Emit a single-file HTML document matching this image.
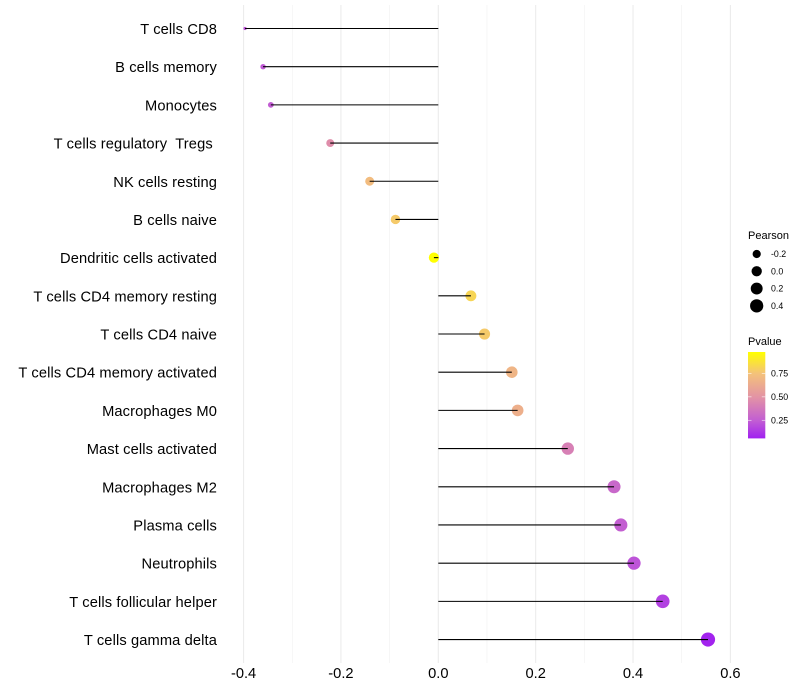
<!DOCTYPE html>
<html>
<head>
<meta charset="utf-8">
<title>Immune cell correlation lollipop chart</title>
<style>
html,body{margin:0;padding:0;background:#fff;width:800px;height:700px;overflow:hidden}
svg{display:block}
text{font-family:"Liberation Sans",sans-serif;fill:#000}
</style>
</head>
<body>
<svg id="chart" width="800" height="700" viewBox="0 0 800 700" xmlns="http://www.w3.org/2000/svg"></svg>
<script>
const categories = ["T cells CD8","B cells memory","Monocytes","T cells regulatory  Tregs ","NK cells resting","B cells naive","Dendritic cells activated","T cells CD4 memory resting","T cells CD4 naive","T cells CD4 memory activated","Macrophages M0","Mast cells activated","Macrophages M2","Plasma cells","Neutrophils","T cells follicular helper","T cells gamma delta"];
const pearson = [-0.397,-0.36,-0.344,-0.222,-0.141,-0.088,-0.009,0.067,0.095,0.151,0.163,0.266,0.361,0.375,0.402,0.461,0.554];
const pvalue = [0.22,0.24,0.25,0.47,0.72,0.78,0.98,0.82,0.78,0.68,0.65,0.41,0.3,0.26,0.22,0.16,0.07];
const xTicks = [-0.4,-0.2,0,0.2,0.4,0.6];
const xMinorTicks = [-0.3,-0.1,0.1,0.3,0.5];
const xTickLabels = ["-0.4","-0.2","0.0","0.2","0.4","0.6"];
const sizeLegendValues = [-0.2,0,0.2,0.4];
const sizeLegendLabels = ["-0.2","0.0","0.2","0.4"];
const colorLegendValues = [0.25,0.5,0.75];
const colorLegendLabels = ["0.25","0.50","0.75"];

const svg = document.getElementById('chart');
const NS = 'http://www.w3.org/2000/svg';
function make(tag, attrs, parent) {
  const el = document.createElementNS(NS, tag);
  for (const k in attrs) el.setAttribute(k, attrs[k]);
  (parent || svg).appendChild(el);
  return el;
}
// axis functions
const xScale = v => 438.3 + v * 486.8;
const yScale = i => 28.5 + i * 38.19;
const pMin = 0.06, pMax = 0.98;
const barY = p => 438 - (p - pMin) / (pMax - pMin) * 86;
const corrMin = Math.min(...pearson), corrMax = Math.max(...pearson);
const radius = r => 1.6 + Math.sqrt(Math.max(0, (r - corrMin) / (corrMax - corrMin))) * 5.5;
function hex(c){return '#'+c.map(v=>Math.round(v).toString(16).padStart(2,'0')).join('');}
const ramp = [[0,[160,32,240]],[0.2,[193,92,212]],[0.47,[226,146,166]],[0.75,[244,194,122]],[1,[255,255,0]]];
function colorAt(p){
  const t = Math.min(1, Math.max(0, (p - pMin) / (pMax - pMin)));
  for (let i = 1; i < ramp.length; i++) {
    if (t <= ramp[i][0]) {
      const a = ramp[i-1], b = ramp[i], f = (t - a[0]) / (b[0] - a[0]);
      return hex(a[1].map((v, j) => v + (b[1][j] - v) * f));
    }
  }
  return hex(ramp[ramp.length-1][1]);
}

// grid
xMinorTicks.forEach(v => {
  const l = make('line', {x1:xScale(v), x2:xScale(v), y1:5, y2:663, stroke:'#f0f0f0', 'stroke-width':0.55});
  
  
});
xTicks.forEach(v => {
  const l = make('line', {x1:xScale(v), x2:xScale(v), y1:5, y2:663, stroke:'#ebebeb', 'stroke-width':1.07});
  
  
});

// marks
categories.forEach((c, i) => {
  const dot = make('circle', {cx:xScale(pearson[i]), cy:yScale(i), r:radius(pearson[i]), fill:colorAt(pvalue[i])});
  
  
  const seg = make('line', {x1:xScale(0), x2:xScale(pearson[i]), y1:yScale(i), y2:yScale(i), stroke:'#000', 'stroke-width':1.07});
  
  
  const t = make('text', {x:217, y:yScale(i) + 5.5, 'text-anchor':'end', 'font-size':14.67, 'letter-spacing':0.12});
  t.setAttribute('xml:space', 'preserve');
  t.style.whiteSpace = 'pre';
  t.textContent = c;
  
  
});

// x tick labels
xTicks.forEach((v, i) => {
  const t = make('text', {x:xScale(v), y:678, 'text-anchor':'middle', 'font-size':14.67});
  t.textContent = xTickLabels[i];
  
  
});

// size legend
const pearsonTitle = make('text', {x:748, y:239, 'font-size':11});
pearsonTitle.textContent = 'Pearson';


sizeLegendValues.forEach((v, i) => {
  const cy = 254 + i * 17.28;
  const d = make('circle', {cx:756.7, cy:cy, r:radius(v), fill:'#000'});
  
  
  const t = make('text', {x:771, y:cy + 3.1, 'font-size':8.8});
  t.textContent = sizeLegendLabels[i];
  
  
});

// colour legend
const pvalueTitle = make('text', {x:748, y:345, 'font-size':11});
pvalueTitle.textContent = 'Pvalue';


const defs = make('defs', {});
const grad = make('linearGradient', {id:'pv', x1:0, y1:1, x2:0, y2:0}, defs);
ramp.forEach(s => make('stop', {offset:s[0], 'stop-color':hex(s[1])}, grad));
const bar = make('rect', {x:748, y:352, width:17.3, height:86.4, fill:'url(#pv)'});


colorLegendValues.forEach((v, i) => {
  const y = barY(v);
  const a = make('line', {x1:748, x2:751.5, y1:y, y2:y, stroke:'#fff', 'stroke-width':0.55});
  
  
  const b = make('line', {x1:761.8, x2:765.3, y1:y, y2:y, stroke:'#fff', 'stroke-width':0.55});
  
  
  const t = make('text', {x:771, y:y + 3.1, 'font-size':8.8});
  t.textContent = colorLegendLabels[i];
  
  
});
</script>
</body>
</html>
